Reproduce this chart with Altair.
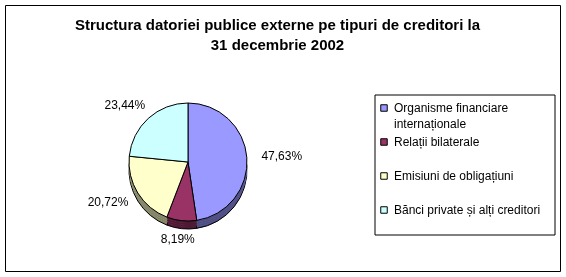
import altair as alt
import pandas as pd

categories = [
    "Organisme financiare internaționale",
    "Relații bilaterale",
    "Emisiuni de obligațiuni",
    "Bănci private și alți creditori",
]
values = [47.63, 8.19, 20.72, 23.44]
labels = ["47,63%", "8,19%", "20,72%", "23,44%"]
colors = ["#9999FF", "#993366", "#FFFFCC", "#CCFFFF"]

title_lines = ["Structura datoriei publice externe pe tipuri de creditori la", "31 decembrie 2002"]

df = pd.DataFrame({
    "cat": categories,
    "val": values,
    "lbl": labels,
    "idx": list(range(len(categories))),
})

CX, CY, R, DEPTH = 183, 157, 59, 8
LRX, LRY = 94, 77  # label ring (elliptic, like the tilted pie)
FONT = "Liberation Sans"

color_scale = alt.Scale(domain=categories, range=colors)
theta = alt.Theta("val:Q", stack=True)
order = alt.Order("idx:Q", sort="ascending")

legend = alt.Legend(
    title=None,
    orient="none",
    legendX=373,
    legendY=97,
    symbolType="square",
    symbolSize=42,
    symbolStrokeColor="black",
    symbolStrokeWidth=1,
    symbolOpacity=1,
    labelFont=FONT,
    labelFontSize=12,
    labelColor="black",
    labelLimit=200,
    labelOffset=4,
    padding=0,
    rowPadding=6,
    gridAlign="all",
    labelExpr="datum.label === 'Organisme financiare internaționale' ? ['Organisme financiare', 'internaționale'] : datum.label",
)
color = alt.Color("cat:N", scale=color_scale, sort=categories, legend=legend)

base = alt.Chart(df)

layers = []
# legend frame
frame = alt.Chart(alt.Data(values=[{}])).mark_rect(
    fill="white", stroke="black", strokeWidth=1
).encode(x=alt.value(370), x2=alt.value(550), y=alt.value(90), y2=alt.value(230))
layers.append(frame)

# 3D side of the pie: colour multiplied by mid grey = half brightness
for d in [DEPTH, 6, 4, 2]:
    layers.append(
        base.mark_arc(
            radius=R,
            stroke="black" if d == DEPTH else None, strokeWidth=1,
        ).encode(
            theta=theta, order=order, color=color,
            x=alt.value(CX), y=alt.value(CY + d),
        )
    )
    layers.append(
        base.mark_arc(radius=R, blend="multiply", fill="#808080").encode(
            theta=theta, order=order, detail="cat:N",
            x=alt.value(CX), y=alt.value(CY + d),
        )
    )

top = base.mark_arc(radius=R, stroke="black", strokeWidth=1).encode(
    theta=theta, order=order, color=color,
    x=alt.value(CX), y=alt.value(CY),
)
layers.append(top)

text = (
    base.transform_joinaggregate(total="sum(val)")
    .transform_window(cum="sum(val)", sort=[alt.SortField("idx", order="ascending")])
    .transform_calculate(mid="(datum.cum - datum.val / 2) / datum.total * 2 * PI")
    .transform_calculate(
        lx=f"{CX} + {LRX} * sin(datum.mid)",
        ly=f"{CY} - {LRY} * cos(datum.mid)",
    )
    .mark_text(font=FONT, fontSize=12, color="black", align="center", baseline="middle")
    .encode(
        x=alt.X("lx:Q", scale=None, axis=None),
        y=alt.Y("ly:Q", scale=None, axis=None),
        text="lbl:N",
    )
)
layers.append(text)

chart = alt.layer(*layers).properties(
    width=555,
    height=266,
    padding={"left": 5, "top": 5, "right": 6, "bottom": 6},
    autosize=alt.AutoSizeParams(type="none"),
    title=alt.TitleParams(
        text=title_lines,
        font=FONT,
        fontSize=15,
        fontWeight="bold",
        color="black",
        anchor="middle",
        baseline="top",
        lineHeight=20,
        offset=-48,
        dx=-5,
    ),
).configure(
    background="white",
    style={"guide-label": {"lineHeight": 16}},
    view=alt.ViewConfig(stroke="black", strokeWidth=1, fill="white"),
)

chart.save("out.html", embed_options={"renderer": "svg", "actions": False})
